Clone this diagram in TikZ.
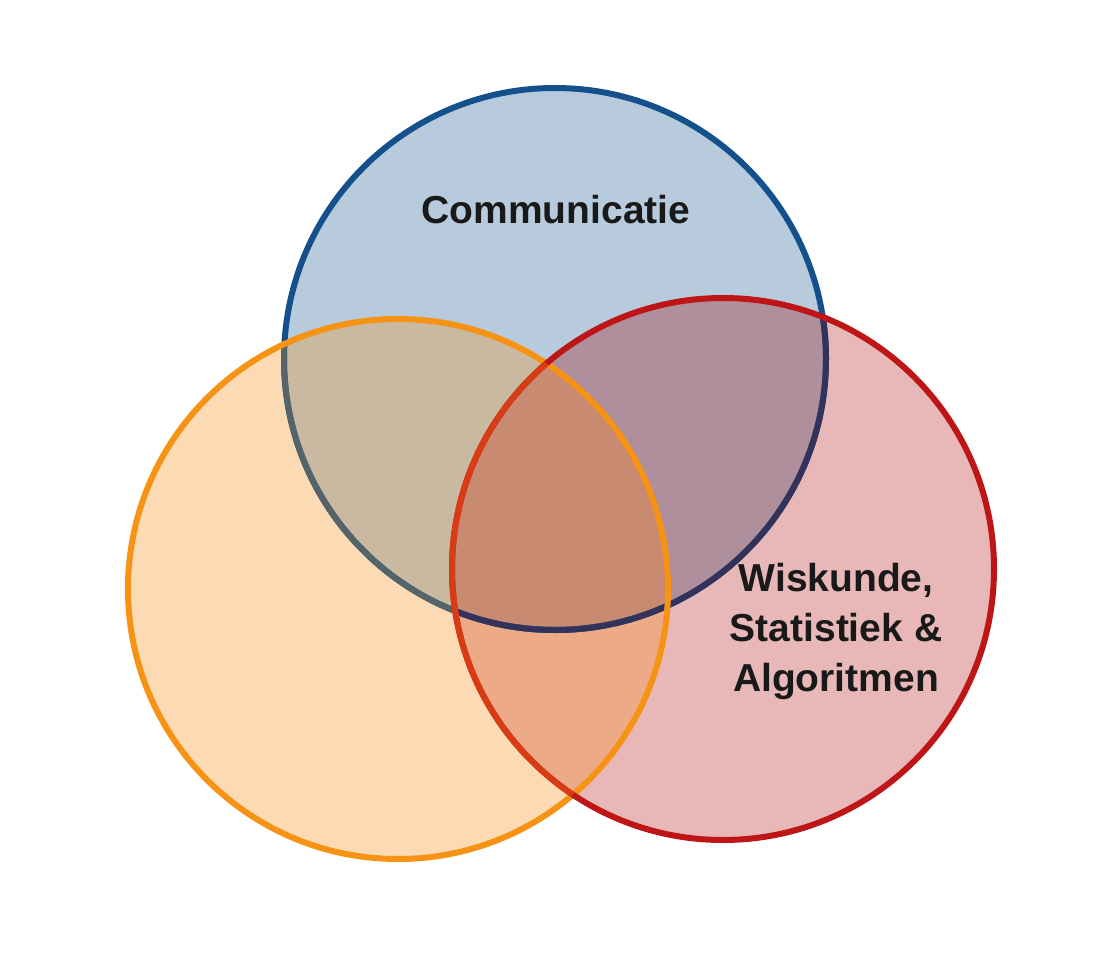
\documentclass[tikz,border=0pt]{standalone}
\usepackage{fontspec}
\setmainfont{Liberation Sans}
\definecolor{fB}{RGB}{183,203,221}
\definecolor{fO}{RGB}{252,218,180}
\definecolor{fR}{RGB}{232,183,183}
\definecolor{fBO}{RGB}{200,185,160}
\definecolor{fBR}{RGB}{175,143,155}
\definecolor{fOR}{RGB}{237,170,135}
\definecolor{fBOR}{RGB}{200,138,112}
\definecolor{sB}{RGB}{20,80,140}
\definecolor{sBO}{RGB}{85,100,105}
\definecolor{sBR}{RGB}{50,50,90}
\definecolor{sO}{RGB}{246,146,20}
\definecolor{sR}{RGB}{190,22,22}
\definecolor{sRO}{RGB}{215,60,20}
\begin{document}
\begin{tikzpicture}[x=1pt,y=-1pt,
  ring/.style={line width=6pt,draw=#1},
  lbl/.style={font=\bfseries\fontsize{39}{50}\selectfont,text=black!90,align=center}]
\useasboundingbox[fill=white] (0,0) rectangle (1120,955);
\def\cB{(555,359) circle (271)}
\def\cO{(398,589) circle (270)}
\def\cR{(723,569) circle (271)}
\fill[fB] \cB;
\fill[fO] \cO;
\fill[fR] \cR;
\begin{scope}\clip \cB; \fill[fBO] \cO;\end{scope}
\begin{scope}\clip \cB; \fill[fBR] \cR;\end{scope}
\begin{scope}\clip \cO; \fill[fOR] \cR;\end{scope}
\begin{scope}\clip \cO; \clip \cB; \fill[fBOR] \cR;\end{scope}
\draw[ring=sB] \cB;
\begin{scope}\clip \cO; \draw[ring=sBO] \cB;\end{scope}
\begin{scope}\clip \cR; \draw[ring=sBR] \cB;\end{scope}
\draw[ring=sO] \cO;
\draw[ring=sR] \cR;
\begin{scope}\clip \cO; \draw[ring=sRO] \cR;\end{scope}
\node[lbl] (c) at (556,210) {Communicatie};
\node[lbl] (w) at (836,631) {Wiskunde,\\Statistiek \&\\Algoritmen};
\end{tikzpicture}
\end{document}
